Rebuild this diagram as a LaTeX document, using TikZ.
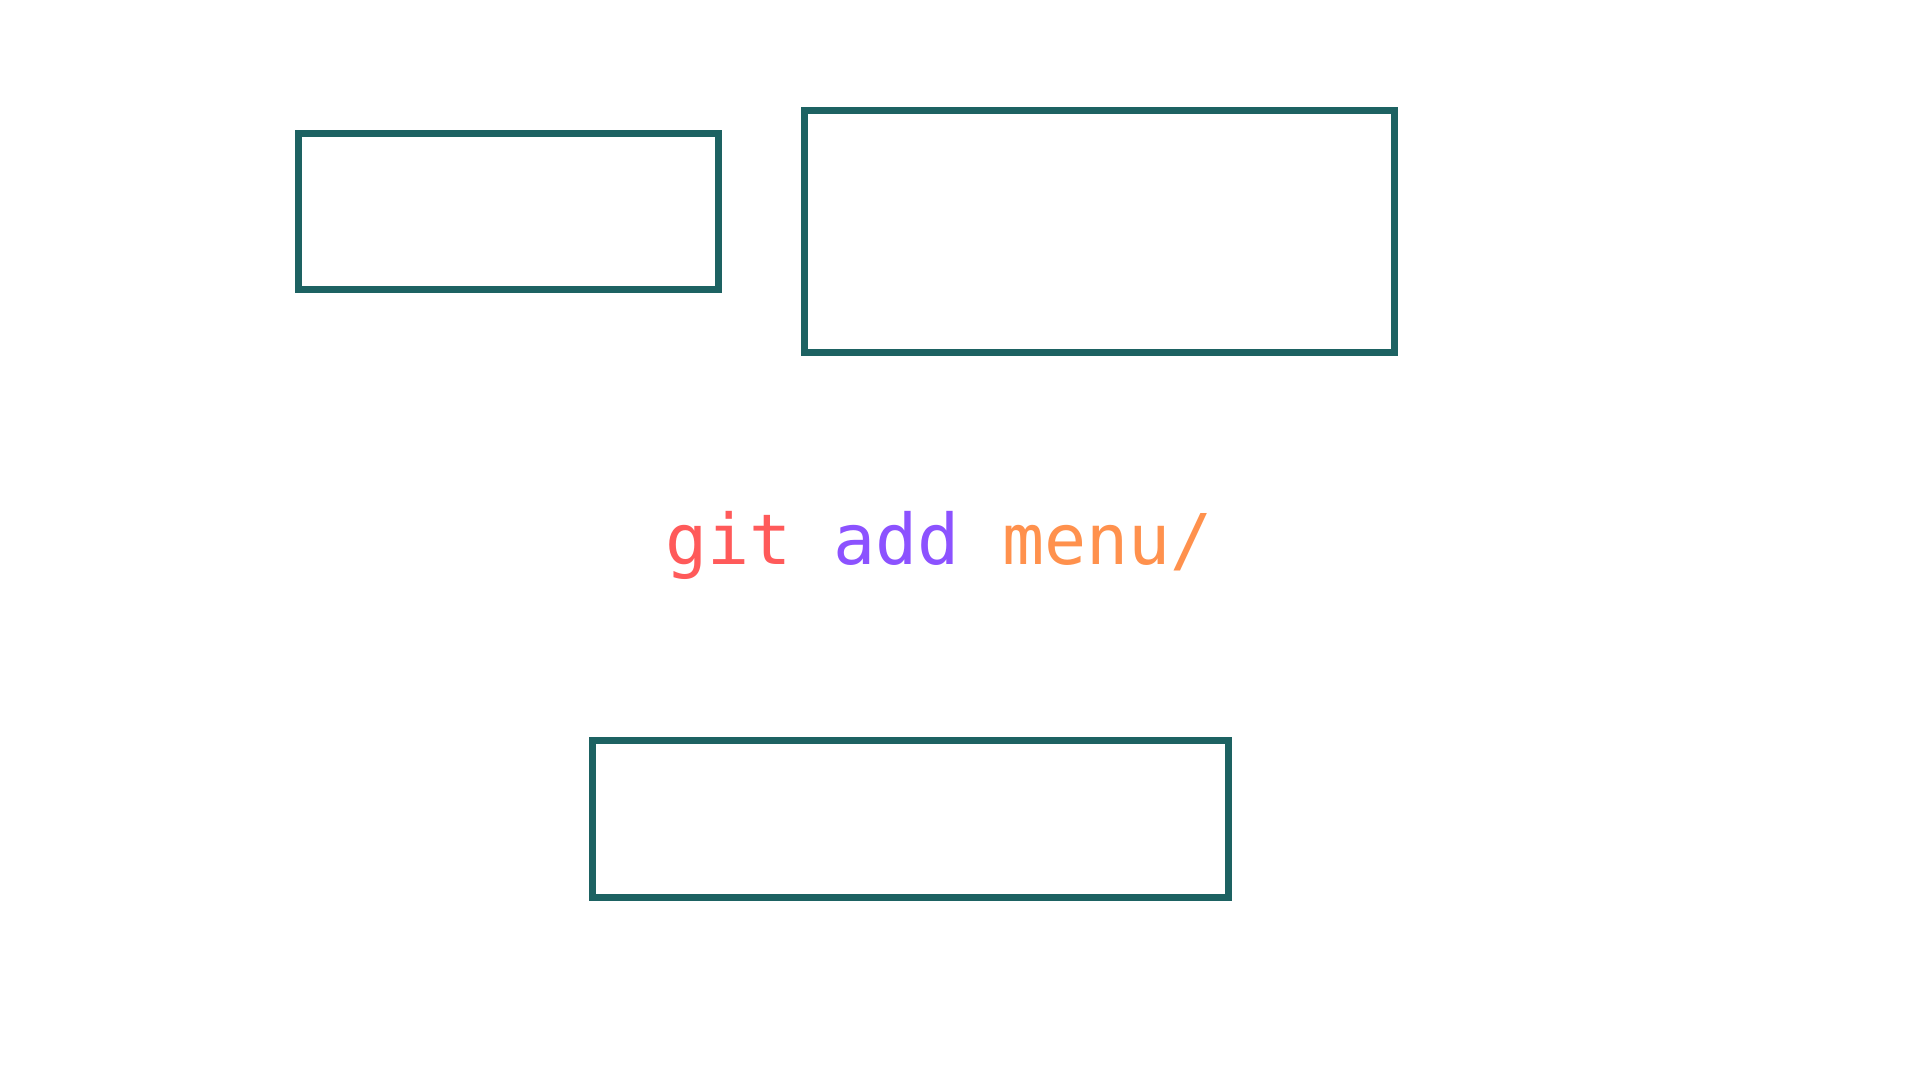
\documentclass[tikz,border=0pt]{standalone}
\usepackage{fontspec}
\setmonofont{DejaVu Sans Mono}
\usepackage{xcolor}
\usetikzlibrary{positioning}

\definecolor{boxteal}{HTML}{1D6262}
\definecolor{gitred}{HTML}{FF5A5A}
\definecolor{gitpurple}{HTML}{8C52FF}
\definecolor{gitorange}{HTML}{FF914D}

\tikzset{
    stagebox/.style={draw=boxteal, line width=0.07cm, rectangle, inner sep=0pt},
    cmdtext/.style={font=\ttfamily\fontsize{19.9pt}{24pt}\selectfont, inner sep=0pt, anchor=base}
}

\begin{document}
\begin{tikzpicture}[x=0.01cm,y=-0.01cm]
\useasboundingbox[fill=white] (0,0) rectangle (1920,1080);

\node[stagebox, minimum width=4.203cm, minimum height=1.555cm] (workdir) at (508.7,211.3) {};
\node[stagebox, minimum width=5.902cm, minimum height=2.423cm] (staging) at (1099.6,231.4) {};
\node[stagebox, minimum width=6.357cm, minimum height=1.566cm] (repo) at (910.4,819.3) {};

\node[cmdtext] (gitadd) at (939,565)
    {\textcolor{gitred}{git} \textcolor{gitpurple}{add} \textcolor{gitorange}{menu/}};
\end{tikzpicture}
\end{document}
